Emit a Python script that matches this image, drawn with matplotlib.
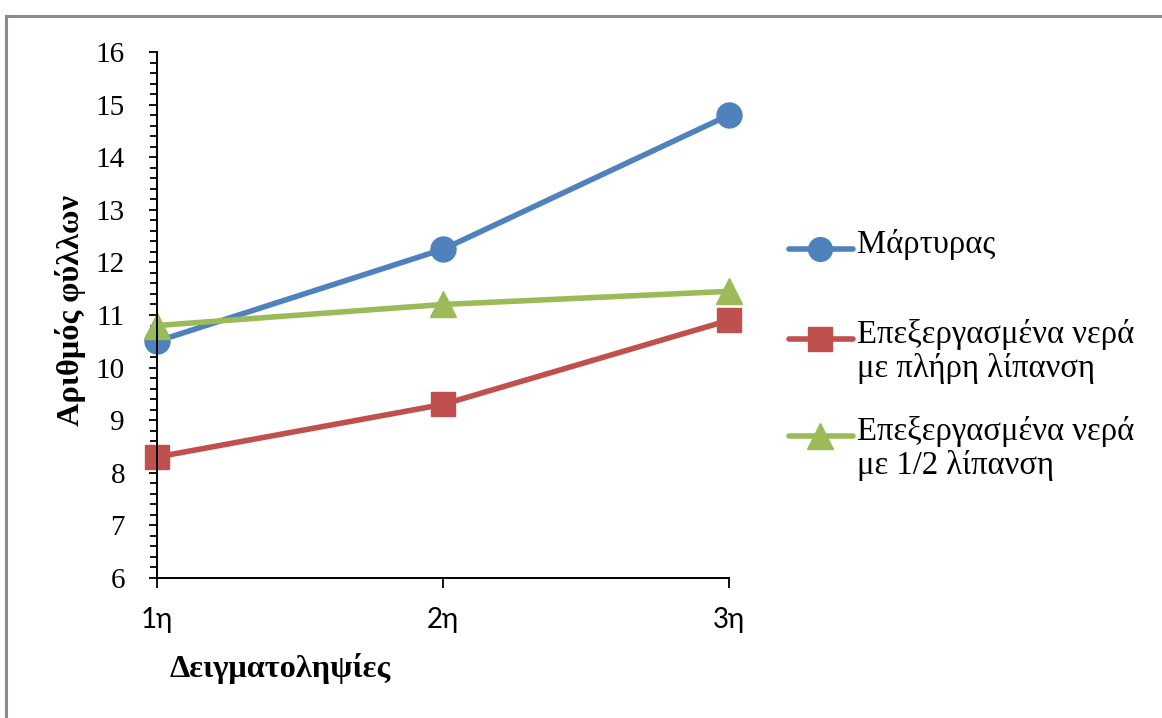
import matplotlib
matplotlib.use("Agg")
import matplotlib.pyplot as plt
from matplotlib.lines import Line2D
from matplotlib.ticker import MultipleLocator

# sampling rounds and number of leaves per treatment
samplings = ["1η", "2η", "3η"]
control = [10.5, 12.25, 14.8]
full_fert = [8.3, 9.3, 10.9]
half_fert = [10.8, 11.2, 11.45]

series = [
    ("Μάρτυρας", control, "#4F81BD", "o", 18),
    ("Επεξεργασμένα νερά\nμε πλήρη λίπανση", full_fert, "#C0504D", "s", 17.5),
    ("Επεξεργασμένα νερά\nμε 1/2 λίπανση", half_fert, "#9BBB59", "^", 19),
]

W, H = 1162, 718
fig = plt.figure(figsize=(W / 100, H / 100), dpi=100)
serif = "Liberation Serif"

ax = fig.add_axes([157 / W, 1 - 578 / H, (729 - 157) / W, (578 - 52) / H])
x = list(range(len(samplings)))
for label, vals, col, mk, ms in series:
    ax.plot(x, vals, color=col, lw=4, marker=mk, ms=ms, clip_on=False,
            solid_capstyle="round")

ax.set_xlim(0, len(samplings) - 1)
ax.set_ylim(6, 16)
ax.set_xticks(x)
ax.set_xticklabels(samplings, family="Lato", fontsize=20)
ax.yaxis.set_major_locator(MultipleLocator(1))
ax.yaxis.set_minor_locator(MultipleLocator(0.2))
for t in ax.get_yticklabels():
    t.set_family(serif)
    t.set_fontsize(21)
ax.tick_params(axis="y", which="major", direction="out", length=6, width=1.3, pad=17)
ax.tick_params(axis="y", which="minor", direction="out", length=5, width=1.3)
ax.tick_params(axis="x", direction="out", length=7, width=1.3, pad=14)
for s in ("top", "right"):
    ax.spines[s].set_visible(False)
for s in ("left", "bottom"):
    ax.spines[s].set_linewidth(1.4)

fig.text(71 / W, 1 - 311 / H, "Αριθμός φύλλων", rotation=90, ha="center",
         va="center", family=serif, fontsize=23.3, fontweight="bold")
fig.text(169 / W, 1 - 668 / H, "Δειγματοληψίες", ha="left", va="center",
         family=serif, fontsize=23.3, fontweight="bold")

# legend drawn by hand so the marker sits on the first text line
legend_y = [249, 339, 436]
for (label, vals, col, mk, ms), yy in zip(series, legend_y):
    yf = 1 - yy / H
    fig.add_artist(Line2D([789 / W, 853 / W], [yf, yf], color=col, lw=4,
                          solid_capstyle="round", transform=fig.transFigure))
    fig.add_artist(Line2D([820 / W], [yf], color=col, marker=mk, ms=ms * 0.95,
                          transform=fig.transFigure))
    fig.text(857 / W, yf + 20 / H, label, ha="left", va="top", family=serif,
             fontsize=23.5, linespacing=1.13)

# chart area frame
edge = "#8c8c8c"
fig.add_artist(Line2D([6 / W, 1.0], [1 - 16 / H, 1 - 16 / H], color=edge, lw=2.2,
                      transform=fig.transFigure))
fig.add_artist(Line2D([6 / W, 6 / W], [0, 1 - 16 / H], color=edge, lw=2.2,
                      transform=fig.transFigure))

fig.savefig("out.png", dpi=100)
